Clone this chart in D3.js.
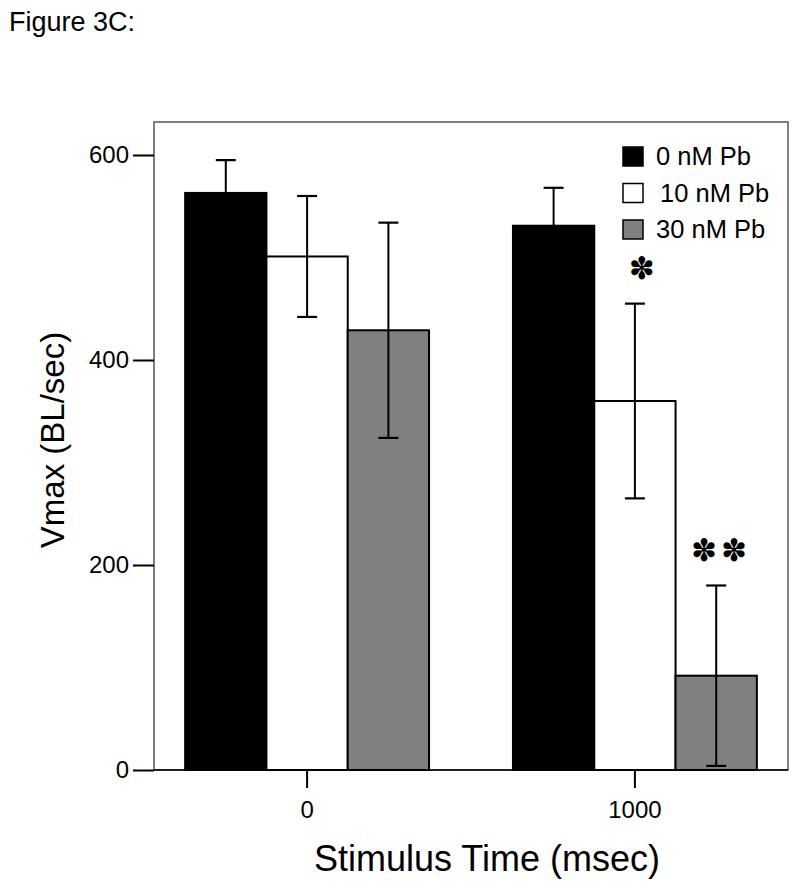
<!DOCTYPE html>
<html><head><meta charset="utf-8">
<script src="https://cdn.jsdelivr.net/npm/d3@7"></script>
<style>body{margin:0;background:#fff;} svg{display:block;font-family:"Liberation Sans",Arial,sans-serif;}</style>
</head><body>
<script>
const groups = ["0", "1000"];
const seriesNames = ["0 nM Pb", "10 nM Pb", "30 nM Pb"];
const seriesColors = ["#000000", "#ffffff", "#808080"];
const means = [[563, 501, 429], [531, 360, 92]];
const errors = [[32, 59, 105], [37, 95, 88]];
const yTicks = [0, 200, 400, 600];
const stars = [[0, 0, 0], [0, 1, 2]];

(function () {
const W = 800, H = 887;
const pL = 154, pR = 788, pT = 122, pB = 770;
const svg = d3.select("body").append("svg").attr("width", W).attr("height", H);

const y = d3.scaleLinear().domain([0, 600]).range([pB, 155]);
const x0 = d3.scaleBand().domain(groups).range([pL, pR]).paddingInner(0.256).paddingOuter(0.095);
const x1 = d3.scaleBand().domain(d3.range(3)).range([0, x0.bandwidth()]).padding(0);

svg.append("text").attr("x", 9).attr("y", 31).attr("font-size", 27).text("Figure 3C:");

svg.append("rect").attr("x", pL).attr("y", pT).attr("width", pR - pL).attr("height", pB - pT)
  .attr("fill", "none").attr("stroke", "#555").attr("stroke-width", 1.5);

const g = svg.selectAll("g.grp").data(groups).enter().append("g")
  .attr("transform", d => `translate(${x0(d)},0)`);

g.each(function(gk, gi) {
  const sel = d3.select(this);
  means[gi].forEach((m, si) => {
    const bx = x1(si), bw = x1.bandwidth();
    sel.append("rect").attr("x", bx).attr("y", y(m)).attr("width", bw).attr("height", y(0) - y(m))
      .attr("fill", seriesColors[si]).attr("stroke", "#000").attr("stroke-width", 2);
    const cx = bx + bw / 2, e = errors[gi][si];
    const lo = Math.max(0, m - e), hi = m + e;
    sel.append("line").attr("x1", cx).attr("x2", cx).attr("y1", y(lo)).attr("y2", y(hi)).attr("stroke", "#000").attr("stroke-width", 2);
    [lo, hi].forEach(v => sel.append("line").attr("x1", cx - 10).attr("x2", cx + 10).attr("y1", y(v)).attr("y2", y(v)).attr("stroke", "#000").attr("stroke-width", 2.2));
    const n = stars[gi][si];
    for (let k = 0; k < n; k++) {
      const sx = n === 1 ? cx + 7 : cx + 3 + (k - 0.5) * 30;
      sel.append("text").attr("x", sx).attr("y", y(hi) - 36).attr("text-anchor", "middle")
        .attr("dominant-baseline", "central")
        .attr("font-family", "DejaVu Sans").attr("font-size", 31).text("✽");
    }
  });
});

const yAxis = svg.append("g").attr("transform", `translate(${pL},0)`)
  .call(d3.axisLeft(y).tickValues(yTicks).tickSize(21).tickPadding(4).tickFormat(d3.format("d")));
yAxis.select(".domain").remove();
yAxis.selectAll("line").attr("stroke", "#000").attr("stroke-width", 2);
yAxis.selectAll("text").attr("font-size", 24).attr("font-family", "Liberation Sans, Arial, sans-serif").attr("fill", "#000");

const xAxis = svg.append("g").attr("transform", `translate(0,${pB})`)
  .call(d3.axisBottom(x0).tickSize(18).tickPadding(13));
xAxis.select(".domain").attr("stroke", "#000").attr("stroke-width", 1.5).attr("d", `M${pL},0H${pR}`);
xAxis.selectAll("line").attr("stroke", "#000").attr("stroke-width", 2);
xAxis.selectAll("text").attr("font-size", 24).attr("font-family", "Liberation Sans, Arial, sans-serif").attr("fill", "#000");

svg.append("text").attr("transform", "translate(64,440) rotate(-90)").attr("text-anchor", "middle")
  .attr("font-size", 33).text("Vmax (BL/sec)");
svg.append("text").attr("x", 487).attr("y", 871).attr("text-anchor", "middle")
  .attr("font-size", 36).text("Stimulus Time (msec)");

const leg = svg.append("g");
seriesNames.forEach((n, i) => {
  const ly = 147 + i * 36.5;
  leg.append("rect").attr("x", 623).attr("y", ly).attr("width", 20).attr("height", 19)
    .attr("fill", seriesColors[i]).attr("stroke", "#000").attr("stroke-width", 1.5);
  leg.append("text").attr("x", i === 1 ? 660 : 656).attr("y", ly + 18).attr("font-size", 25.5).text(n);
});
})();
</script>
</body></html>
